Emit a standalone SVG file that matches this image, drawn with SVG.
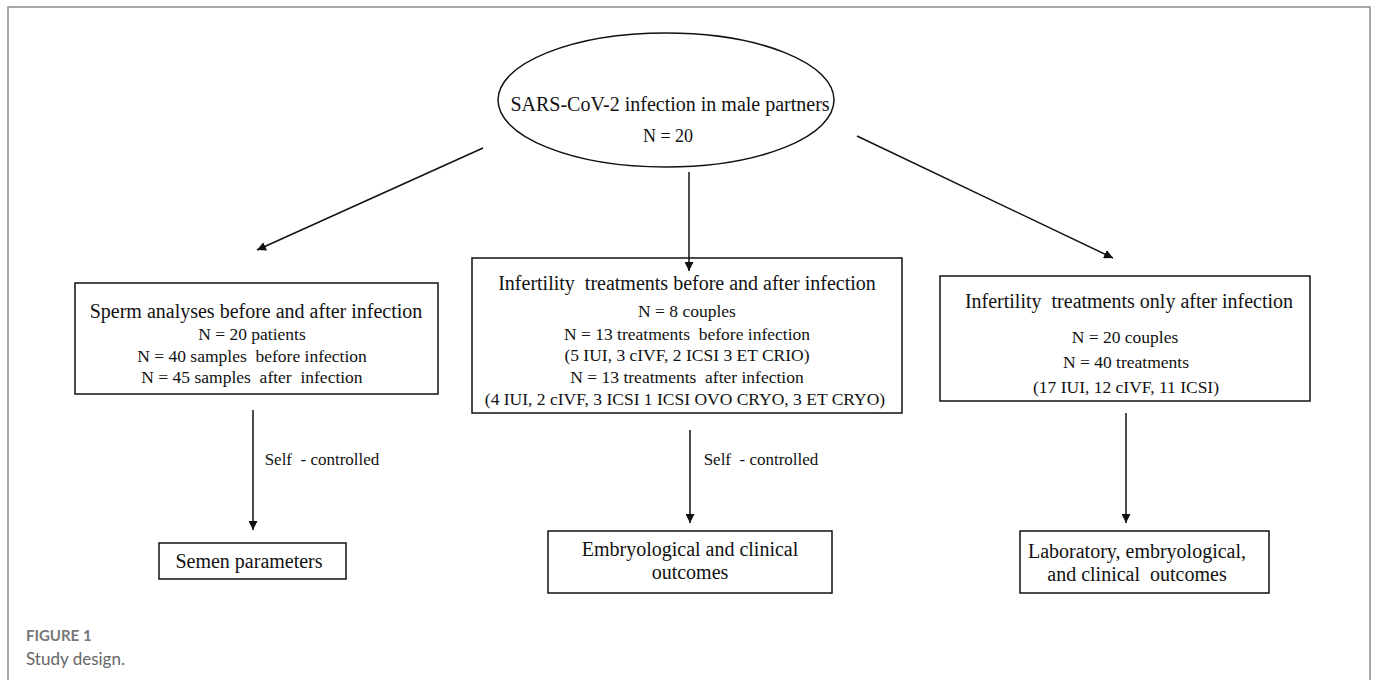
<svg xmlns="http://www.w3.org/2000/svg" width="1375" height="680" viewBox="0 0 1375 680">
<style>
.t{font-family:"Liberation Serif","Times New Roman",serif;fill:#111;text-anchor:middle}
.h{font-size:20px}
.b{font-size:17.5px}
.box{fill:none;stroke:#111;stroke-width:1.5}
.c{stroke:#111;stroke-width:1.5;fill:none}
.cap{font-family:Lato,"Open Sans",sans-serif}
</style>
<defs>
<marker id="ah" viewBox="0 0 10 10" refX="10" refY="5" markerWidth="6" markerHeight="6" markerUnits="strokeWidth" orient="auto">
<path d="M0,0 L10,5 L0,10 z" fill="#111"/>
</marker>
</defs>
<rect width="1375" height="680" fill="#fff"/>
<path d="M8,680 V7 H1370 V680" fill="none" stroke="#8a8a8a" stroke-width="1.5"/>
<g id="connectors">
<line class="c" x1="483" y1="148" x2="257" y2="250" marker-end="url(#ah)"/>
<line class="c" x1="689" y1="172" x2="689" y2="271" marker-end="url(#ah)"/>
<line class="c" x1="857" y1="136" x2="1113" y2="258" marker-end="url(#ah)"/>
<line class="c" x1="253" y1="410" x2="253" y2="530" marker-end="url(#ah)"/>
<line class="c" x1="690" y1="430" x2="690" y2="523" marker-end="url(#ah)"/>
<line class="c" x1="1126" y1="413" x2="1126" y2="523" marker-end="url(#ah)"/>
<text class="t b" x="322" y="465" style="font-size:17px" xml:space="preserve">Self  - controlled</text>
<text class="t b" x="761" y="465" style="font-size:17px" xml:space="preserve">Self  - controlled</text>
</g>
<g id="start">
<ellipse class="box" cx="666" cy="100" rx="168" ry="67"/>
<text class="t h" x="670" y="111">SARS-CoV-2 infection in male partners</text>
<text class="t" x="668" y="142" style="font-size:18px">N = 20</text>
</g>
<g id="sperm">
<rect class="box" x="75" y="283" width="363" height="111"/>
<text class="t h" x="256" y="318">Sperm analyses before and after infection</text>
<text class="t b" x="252" y="340">N = 20 patients</text>
<text class="t b" x="252" y="362" xml:space="preserve">N = 40 samples  before infection</text>
<text class="t b" x="252" y="383" xml:space="preserve">N = 45 samples  after  infection</text>
</g>
<g id="before-after">
<rect class="box" x="472" y="258" width="430" height="155"/>
<text class="t h" x="687" y="290" xml:space="preserve">Infertility  treatments before and after infection</text>
<text class="t b" x="687" y="317">N = 8 couples</text>
<text class="t b" x="687" y="340" xml:space="preserve">N = 13 treatments  before infection</text>
<text class="t b" x="687" y="361">(5 IUI, 3 cIVF, 2 ICSI 3 ET CRIO)</text>
<text class="t b" x="687" y="383" xml:space="preserve">N = 13 treatments  after infection</text>
<text class="t b" x="685" y="405">(4 IUI, 2 cIVF, 3 ICSI 1 ICSI OVO CRYO, 3 ET CRYO)</text>
</g>
<g id="after-only">
<rect class="box" x="940" y="276" width="370" height="125"/>
<text class="t h" x="1129" y="308" xml:space="preserve">Infertility  treatments only after infection</text>
<text class="t b" x="1125" y="343">N = 20 couples</text>
<text class="t b" x="1126" y="368">N = 40 treatments</text>
<text class="t b" x="1126" y="393">(17 IUI, 12 cIVF, 11 ICSI)</text>
</g>
<g id="semen">
<rect class="box" x="159" y="543" width="187" height="36"/>
<text class="t h" x="249" y="568">Semen parameters</text>
</g>
<g id="embryo">
<rect class="box" x="548" y="531" width="284" height="62"/>
<text class="t h" x="690" y="556">Embryological and clinical</text>
<text class="t h" x="690" y="579">outcomes</text>
</g>
<g id="lab">
<rect class="box" x="1020" y="531" width="249" height="62"/>
<text class="t h" x="1137" y="558">Laboratory, embryological,</text>
<text class="t h" x="1137" y="581" xml:space="preserve">and clinical  outcomes</text>
</g>
<g id="caption">
<text class="cap" x="26" y="641" style="font-size:15px;font-weight:700;fill:#777">FIGURE 1</text>
<text class="cap" x="26" y="665" style="font-size:17px;fill:#666">Study design.</text>
</g>
</svg>
